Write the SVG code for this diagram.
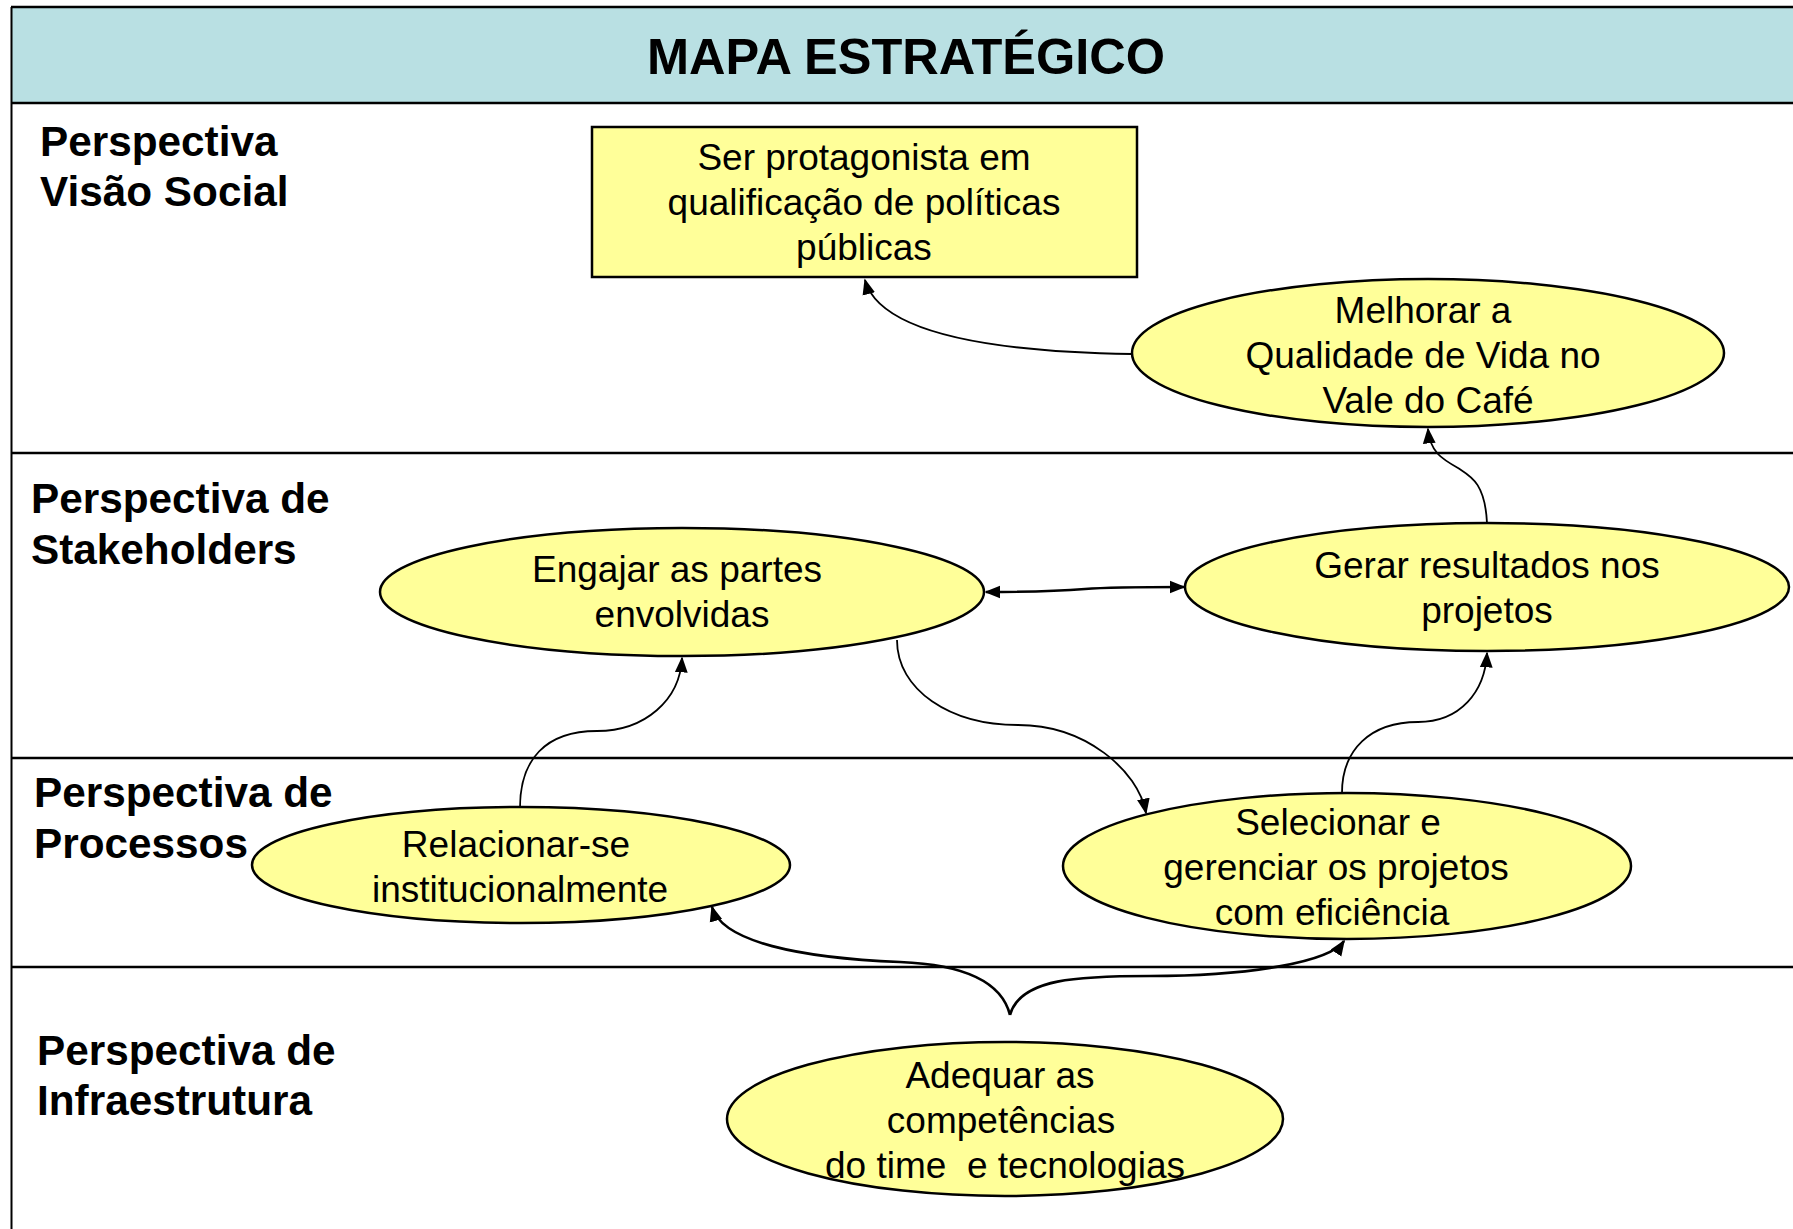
<svg xmlns="http://www.w3.org/2000/svg" width="1793" height="1229" viewBox="0 0 1793 1229">
<defs>
<style>
.lbl{font-family:"Liberation Sans",Arial,sans-serif;font-weight:bold;font-size:42.3px;fill:#000}
.txt{font-family:"Liberation Sans",Arial,sans-serif;font-size:37px;fill:#000;text-anchor:middle}
.node{fill:#FFFF99;stroke:#000;stroke-width:2.5}
.sep{stroke:#000;stroke-width:2.5}
.c{fill:none;stroke:#000;stroke-width:1.8}
.c2{fill:none;stroke:#000;stroke-width:2.6}
</style>
<marker id="ah" viewBox="0 0 10 10" refX="9" refY="5" markerWidth="16" markerHeight="16" markerUnits="userSpaceOnUse" orient="auto-start-reverse">
<path d="M0,1 L10,5 L0,9 Z" fill="#000"/>
</marker>
</defs>
<rect x="0" y="0" width="1793" height="1229" fill="#fff"/>
<g id="frame">
<rect x="11" y="7" width="1790" height="96" fill="#B9E0E3"/>
<line class="sep" x1="11" y1="7" x2="1793" y2="7"/>
<line class="sep" x1="11" y1="103" x2="1793" y2="103"/>
<line class="sep" x1="11" y1="453" x2="1793" y2="453"/>
<line class="sep" x1="11" y1="758" x2="1793" y2="758"/>
<line class="sep" x1="11" y1="967" x2="1793" y2="967"/>
<line x1="11.5" y1="7" x2="11.5" y2="1229" stroke="#000" stroke-width="2"/>
<text x="906" y="74" text-anchor="middle" font-family="'Liberation Sans',Arial,sans-serif" font-weight="bold" font-size="50.5">MAPA ESTRATÉGICO</text>
</g>
<g id="labels">
<text class="lbl" x="40" y="156">Perspectiva</text>
<text class="lbl" x="40" y="206">Visão Social</text>
<text class="lbl" x="31" y="513">Perspectiva de</text>
<text class="lbl" x="31" y="564">Stakeholders</text>
<text class="lbl" x="34" y="807">Perspectiva de</text>
<text class="lbl" x="34" y="858">Processos</text>
<text class="lbl" x="37" y="1065">Perspectiva de</text>
<text class="lbl" x="37" y="1115">Infraestrutura</text>
</g>
<g id="connectors">
<path class="c" d="M1132,354 C1000,352 880,335 865,280" marker-end="url(#ah)"/>
<path class="c" d="M1487,523 C1485,482 1470,476 1458,468 C1442,459 1430,452 1428,429" marker-end="url(#ah)"/>
<path class="c2" d="M986,592 C1030,592 1060,591 1085,589 C1110,587 1150,587 1184,587" marker-start="url(#ah)" marker-end="url(#ah)"/>
<path class="c" d="M520,808 C520,760 545,731 597,731 C645,731 680,700 682,658" marker-end="url(#ah)"/>
<path class="c" d="M897,640 C897,690 950,725 1018,725 C1085,725 1138,770 1146,813" marker-end="url(#ah)"/>
<path class="c" d="M1342,793 C1342,750 1370,722 1418,722 C1460,722 1485,692 1487,653" marker-end="url(#ah)"/>
<path class="c2" d="M1010,1015 C1000,975 950,964 900,962 C800,958 722,942 712,907" marker-end="url(#ah)"/>
<path class="c2" d="M1010,1015 C1020,978 1080,976 1150,976 C1250,976 1330,962 1344,941" marker-end="url(#ah)"/>
</g>
<g id="n-visao">
<rect class="node" x="592" y="127" width="545" height="150"/>
<text class="txt" x="864" y="170">Ser protagonista em</text>
<text class="txt" x="864" y="215">qualificação de políticas</text>
<text class="txt" x="864" y="260">públicas</text>
</g>
<g id="n-melhorar">
<ellipse class="node" cx="1428" cy="353" rx="296" ry="74"/>
<text class="txt" x="1423" y="323">Melhorar a</text>
<text class="txt" x="1423" y="368">Qualidade de Vida no</text>
<text class="txt" x="1428" y="413">Vale do Café</text>
</g>
<g id="n-engajar">
<ellipse class="node" cx="682" cy="592" rx="302" ry="64"/>
<text class="txt" x="677" y="582">Engajar as partes</text>
<text class="txt" x="682" y="627">envolvidas</text>
</g>
<g id="n-gerar">
<ellipse class="node" cx="1487" cy="587" rx="302" ry="64"/>
<text class="txt" x="1487" y="578">Gerar resultados nos</text>
<text class="txt" x="1487" y="623">projetos</text>
</g>
<g id="n-relacionar">
<ellipse class="node" cx="521" cy="865" rx="269" ry="58"/>
<text class="txt" x="516" y="857">Relacionar-se</text>
<text class="txt" x="520" y="902">institucionalmente</text>
</g>
<g id="n-selecionar">
<ellipse class="node" cx="1347" cy="866" rx="284" ry="73"/>
<text class="txt" x="1338" y="835">Selecionar e</text>
<text class="txt" x="1336" y="880">gerenciar os projetos</text>
<text class="txt" x="1332" y="925">com eficiência</text>
</g>
<g id="n-adequar">
<ellipse class="node" cx="1005" cy="1119" rx="278" ry="77"/>
<text class="txt" x="1000" y="1088">Adequar as</text>
<text class="txt" x="1001" y="1133">competências</text>
<text class="txt" x="1005" y="1178" xml:space="preserve">do time  e tecnologias</text>
</g>
</svg>
